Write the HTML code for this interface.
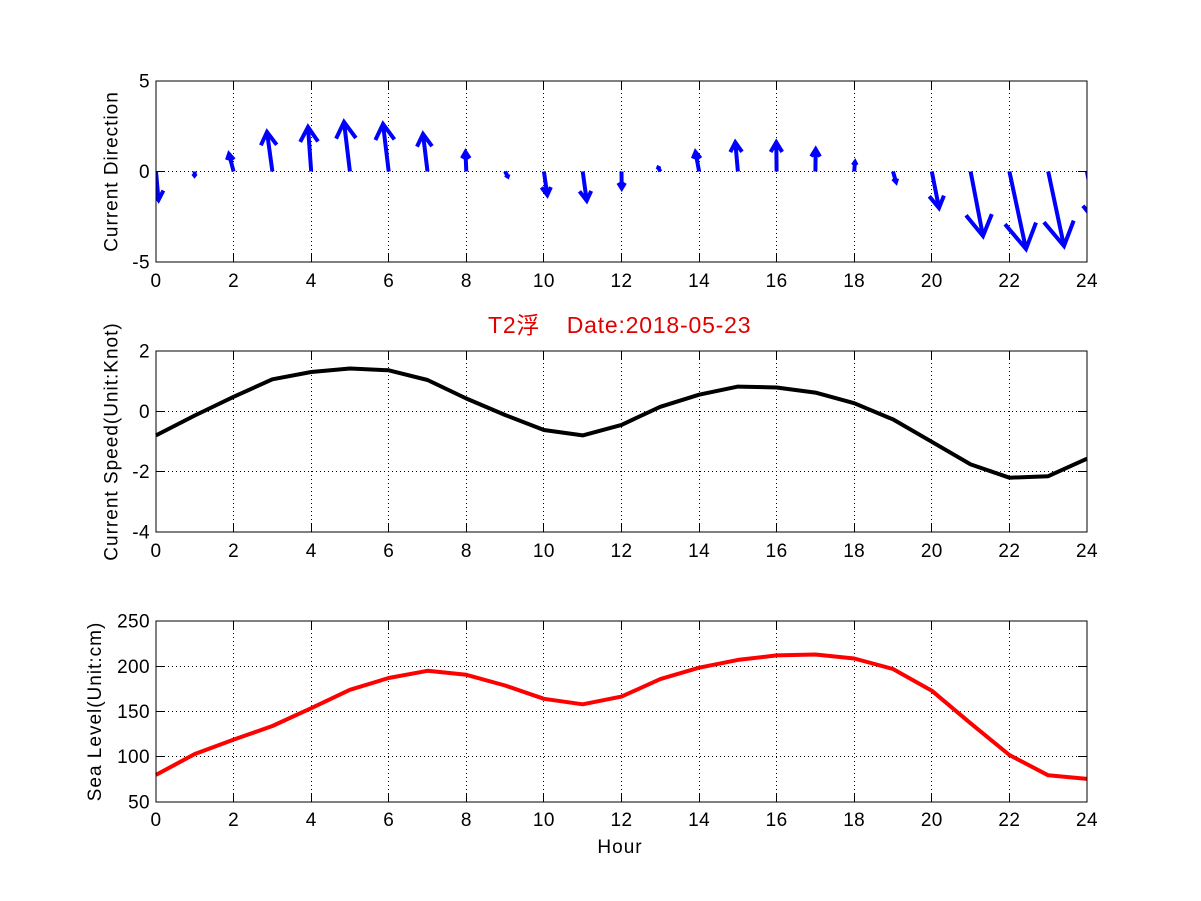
<!DOCTYPE html>
<html>
<head>
<meta charset="utf-8">
<style>
html,body{margin:0;padding:0;background:#fff;}
svg{display:block;}
.tk{font-family:"Liberation Sans","Noto Sans CJK SC",sans-serif;font-size:19px;letter-spacing:0.4px;fill:#000;}
.lb{font-family:"Liberation Sans","Noto Sans CJK SC",sans-serif;font-size:19px;letter-spacing:1px;fill:#000;}
.tt{font-family:"Liberation Sans","Noto Sans CJK SC",sans-serif;font-size:23px;letter-spacing:0.8px;fill:#e00000;}
.grid{fill:none;stroke:#000;stroke-width:1;stroke-dasharray:1,3;}
.frame{fill:none;stroke:#000;stroke-width:1;}
.ticks{fill:none;stroke:#000;stroke-width:1;}
</style>
</head>
<body>
<svg width="1201" height="901" viewBox="0 0 1201 901" xmlns="http://www.w3.org/2000/svg">
<defs>
<clipPath id="c1"><rect x="156" y="81" width="931" height="181"/></clipPath>
</defs>
<rect x="0" y="0" width="1201" height="901" fill="#fff"/>

<!-- ===== Panel 1 ===== -->
<path class="grid" d="M233.5 81V262M311.5 81V262M388.5 81V262M466.5 81V262M543.5 81V262M621.5 81V262M699.5 81V262M776.5 81V262M854.5 81V262M931.5 81V262M1009.5 81V262M156 171.5H1087"/>
<path class="ticks" d="M233.5 81v9M311.5 81v9M388.5 81v9M466.5 81v9M543.5 81v9M621.5 81v9M699.5 81v9M776.5 81v9M854.5 81v9M931.5 81v9M1009.5 81v9
M233.5 262v-9M311.5 262v-9M388.5 262v-9M466.5 262v-9M543.5 262v-9M621.5 262v-9M699.5 262v-9M776.5 262v-9M854.5 262v-9M931.5 262v-9M1009.5 262v-9
M156 171.5h9M1087 171.5h-9"/>
<g clip-path="url(#c1)" fill="none" stroke="#0000ff" stroke-width="4" stroke-linejoin="miter" stroke-miterlimit="3">
<path d="M156 171.5L158.5 200M163.4 190.5L158.5 200L152 190.7"/>
<path d="M194.8 171.5L194.5 175.5M193 173.6L194.5 175.5L196 173.6"/>
<path d="M233.6 171.5L229 154M227 160L229 154L234 159.6"/>
<path d="M272.4 171.5L267 132M260.9 145.3L267 132L276.7 144.8"/>
<path d="M311.2 171.5L308 127M300.2 141.9L308 127L318 141.5"/>
<path d="M349.9 171.5L344 122M336.1 138.6L344 122L355.9 138"/>
<path d="M388.7 171.5L383 124M375.4 140L383 124L394.4 139.4"/>
<path d="M427.5 171.5L423 134M417 146.6L423 134L432 146.2"/>
<path d="M466.3 171.5L465.5 152M461.9 158.4L465.5 152L469.7 158.4"/>
<path d="M505.1 171.5L507.7 176.5M508.5 174.2L507.7 176.5L505.3 175"/>
<path d="M543.9 171.5L547.3 195M550.9 187.1L547.3 195L541.5 187.4"/>
<path d="M582.7 171.5L586.7 200.7M591.2 190.9L586.7 200.7L579.5 191.3"/>
<path d="M621.5 171.5L621.7 188.3M625 182.8L621.7 188.3L618.3 182.8"/>
<path d="M660.3 171.5L658.3 167.7M657.6 169.5L658.3 167.7L660.3 168.8"/>
<path d="M699.1 171.5L695.5 152M692.8 158.6L695.5 152L700.6 158.3"/>
<path d="M737.9 171.5L735.3 142.3M730.3 152.1L735.3 142.3L742 151.8"/>
<path d="M776.6 171.5L776.3 142.3M770.6 152L776.3 142.3L782.2 151.9"/>
<path d="M815.4 171.5L815.7 149.3M811.2 156.6L815.7 149.3L820 156.6"/>
<path d="M854.2 171.5L855 162M852.8 165.1L855 162L856.6 165.2"/>
<path d="M893 171.5L896 182M897.1 178.4L896 182L892.9 178.7"/>
<path d="M931.8 171.5L939 208M943.9 195.6L939 208L929.3 196.3"/>
<path d="M970.6 171.5L983 236M991.8 214.1L983 236L966 215.3"/>
<path d="M1009.4 171.5L1026 249M1036 222.6L1026 249L1005 224.2"/>
<path d="M1048.2 171.5L1064 246M1073.7 220.6L1064 246L1043.9 222.2"/>
<path d="M1087 171.5L1096 222M1082.9 205.8L1096 222L1103.1 204.8"/>
</g>
<rect class="frame" x="156" y="81" width="931" height="181"/>
<g class="tk" text-anchor="end">
<text x="150" y="87.5">5</text>
<text x="150" y="178">0</text>
<text x="150" y="268.5">-5</text>
</g>
<g class="tk" text-anchor="middle">
<text x="156" y="287">0</text><text x="233.6" y="287">2</text><text x="311.2" y="287">4</text><text x="388.7" y="287">6</text><text x="466.3" y="287">8</text><text x="543.9" y="287">10</text><text x="621.5" y="287">12</text><text x="699.1" y="287">14</text><text x="776.6" y="287">16</text><text x="854.2" y="287">18</text><text x="931.8" y="287">20</text><text x="1009.4" y="287">22</text><text x="1087" y="287">24</text>
</g>
<text class="lb" text-anchor="middle" transform="translate(117.5,171.5) rotate(-90)">Current Direction</text>

<!-- Title -->
<text class="tt" x="488" y="333">T2浮</text>
<text class="tt" x="566.7" y="333">Date:2018-05-23</text>

<!-- ===== Panel 2 ===== -->
<path class="grid" d="M233.5 351V532M311.5 351V532M388.5 351V532M466.5 351V532M543.5 351V532M621.5 351V532M699.5 351V532M776.5 351V532M854.5 351V532M931.5 351V532M1009.5 351V532M156 411.5H1087M156 471.5H1087"/>
<path class="ticks" d="M233.5 351v9M311.5 351v9M388.5 351v9M466.5 351v9M543.5 351v9M621.5 351v9M699.5 351v9M776.5 351v9M854.5 351v9M931.5 351v9M1009.5 351v9
M233.5 532v-9M311.5 532v-9M388.5 532v-9M466.5 532v-9M543.5 532v-9M621.5 532v-9M699.5 532v-9M776.5 532v-9M854.5 532v-9M931.5 532v-9M1009.5 532v-9
M156 411.5h9M1087 411.5h-9M156 471.5h9M1087 471.5h-9"/>
<polyline fill="none" stroke="#000" stroke-width="4" stroke-linejoin="round" points="156,435.4 194.8,415.5 233.6,396.8 272.4,379.3 311.2,372 349.9,368.5 388.7,370.3 427.5,380 466.3,398.5 505.1,415 543.9,430 582.7,435.4 621.5,424.9 660.3,406.8 699.1,394.7 737.9,386.6 776.6,387.5 815.4,392.6 854.2,403.2 893,419.4 931.8,441.8 970.6,464.4 1009.4,477.7 1048.2,476.2 1087,458.7"/>
<rect class="frame" x="156" y="351" width="931" height="181"/>
<g class="tk" text-anchor="end">
<text x="150" y="357.5">2</text>
<text x="150" y="418">0</text>
<text x="150" y="478">-2</text>
<text x="150" y="538.5">-4</text>
</g>
<g class="tk" text-anchor="middle">
<text x="156" y="557">0</text><text x="233.6" y="557">2</text><text x="311.2" y="557">4</text><text x="388.7" y="557">6</text><text x="466.3" y="557">8</text><text x="543.9" y="557">10</text><text x="621.5" y="557">12</text><text x="699.1" y="557">14</text><text x="776.6" y="557">16</text><text x="854.2" y="557">18</text><text x="931.8" y="557">20</text><text x="1009.4" y="557">22</text><text x="1087" y="557">24</text>
</g>
<text class="lb" text-anchor="middle" transform="translate(117.5,441.5) rotate(-90)">Current Speed(Unit:Knot)</text>

<!-- ===== Panel 3 ===== -->
<path class="grid" d="M233.5 621V802M311.5 621V802M388.5 621V802M466.5 621V802M543.5 621V802M621.5 621V802M699.5 621V802M776.5 621V802M854.5 621V802M931.5 621V802M1009.5 621V802M156 666.5H1087M156 711.5H1087M156 756.5H1087"/>
<path class="ticks" d="M233.5 621v9M311.5 621v9M388.5 621v9M466.5 621v9M543.5 621v9M621.5 621v9M699.5 621v9M776.5 621v9M854.5 621v9M931.5 621v9M1009.5 621v9
M233.5 802v-9M311.5 802v-9M388.5 802v-9M466.5 802v-9M543.5 802v-9M621.5 802v-9M699.5 802v-9M776.5 802v-9M854.5 802v-9M931.5 802v-9M1009.5 802v-9
M156 666.5h9M1087 666.5h-9M156 711.5h9M1087 711.5h-9M156 756.5h9M1087 756.5h-9"/>
<polyline fill="none" stroke="#ff0000" stroke-width="4" stroke-linejoin="round" points="156,774.9 194.8,754 233.6,739.6 272.4,726 311.2,708.2 349.9,689.8 388.7,678 427.5,670.8 466.3,674.8 505.1,685.5 543.9,698.8 582.7,704.3 621.5,696.6 660.3,679.1 699.1,667.7 737.9,659.9 776.6,655.4 815.4,654.5 854.2,658.5 893,669 931.8,690.7 970.6,723.3 1009.4,755 1048.2,775.3 1087,778.9"/>
<rect class="frame" x="156" y="621" width="931" height="181"/>
<g class="tk" text-anchor="end">
<text x="150" y="627.5">250</text>
<text x="150" y="672.8">200</text>
<text x="150" y="718">150</text>
<text x="150" y="763.2">100</text>
<text x="150" y="808.5">50</text>
</g>
<g class="tk" text-anchor="middle">
<text x="156" y="826">0</text><text x="233.6" y="826">2</text><text x="311.2" y="826">4</text><text x="388.7" y="826">6</text><text x="466.3" y="826">8</text><text x="543.9" y="826">10</text><text x="621.5" y="826">12</text><text x="699.1" y="826">14</text><text x="776.6" y="826">16</text><text x="854.2" y="826">18</text><text x="931.8" y="826">20</text><text x="1009.4" y="826">22</text><text x="1087" y="826">24</text>
</g>
<text class="lb" text-anchor="middle" transform="translate(101,711.5) rotate(-90)">Sea Level(Unit:cm)</text>
<text class="lb" text-anchor="middle" x="620" y="853">Hour</text>
</svg>
</body>
</html>
